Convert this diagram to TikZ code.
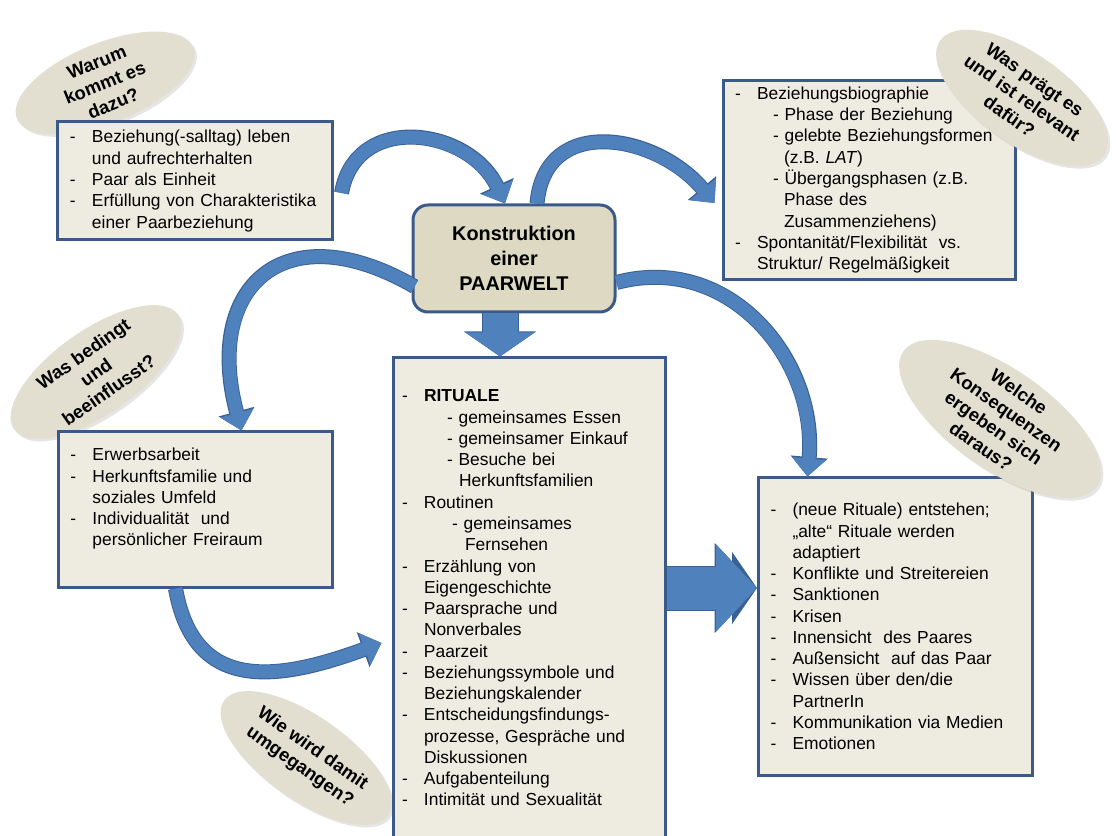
\documentclass[tikz,border=0pt]{standalone}
\usepackage{fontspec}
\setmainfont{Liberation Sans}
\usepackage{tikz}
\usetikzlibrary{arrows.meta,shapes,positioning,shadows}
\usetikzlibrary{calc}

\definecolor{boxblue}{HTML}{3B5A8A}
\definecolor{boxfill}{HTML}{EEECE1}
\definecolor{corefill}{HTML}{DDD9C3}
\definecolor{bubblefill}{HTML}{E2DFD0}
\definecolor{arrowblue}{HTML}{4F81BD}
\definecolor{arrowdark}{HTML}{3A6196}

\newcommand{\dashitem}{\makebox[4.4mm][l]{-}}
\newcommand{\dashcont}{\hspace*{4.4mm}}
\newcommand{\subdash}[1][7.6mm]{\hspace*{#1}-\ }
\newcommand{\subcont}[1][9.8mm]{\hspace*{#1}}

\begin{document}
\begin{tikzpicture}[x=0.2mm, y=0.2mm]
        \tikzstyle{block} = [rectangle, draw=boxblue, line width=0.6mm,
                             fill=boxfill, align=left, text width=50mm,
                             inner xsep=2.4mm,
                             font=\fontsize{9.9}{12.1}\selectfont]
        \tikzstyle{core} = [rectangle, rounded corners=3mm, draw=boxblue,
                            line width=0.6mm, fill=corefill, align=center,
                            minimum width=40.4mm, minimum height=21.4mm,
                            font=\bfseries\fontsize{11.3}{14.2}\selectfont]
        \tikzstyle{bubble} = [ellipse, fill=bubblefill, inner sep=-1.5mm,
                              align=center,
                              drop shadow={opacity=0.2, shadow xshift=0.5mm,
                                           shadow yshift=-0.5mm},
                              font=\bfseries\fontsize{10.5}{12.6}\selectfont]
        \tikzstyle{bigarrow} = [draw=arrowblue, line width=2.6mm,
                                -{Triangle[width=6.6mm,length=3.6mm]},
                                preaction={draw=arrowdark, line width=3mm,
                                  -{Triangle[width=7.2mm,length=3.9mm]}}]
        \tikzstyle{blockarrow} = [draw=arrowblue, line width=7mm,
                                  -{Triangle[width=13.6mm,length=4.8mm]},
                                  preaction={draw=arrowdark, line width=7.4mm,
                                    -{Triangle[width=14.2mm,length=5mm]}}]
        \useasboundingbox (0,0) rectangle (1116,835);
        \fill[white] (0,0) rectangle (1116,835);
        % questions on the left
        \node[bubble, minimum width=38mm, minimum height=16mm, rotate=22]
          (warum) at (105,752) {Warum\\kommt es\\dazu?};
        \node[bubble, minimum width=40mm, minimum height=16.8mm, rotate=35]
          (bedingt) at (96,463) {Was bedingt\\und\\beeinflusst?};
        \node[bubble, minimum width=40mm, minimum height=16.8mm, rotate=-35]
          (umgang) at (306,77) {Wie wird damit\\umgegangen?};
        % boxes
        \node[block, minimum height=23.6mm] (why) at (195,654)
          {\dashitem Beziehung(-salltag) leben\\
           \dashcont und aufrechterhalten\\
           \dashitem Paar als Einheit\\
           \dashitem Erfüllung von Charakteristika\\
           \dashcont einer Paarbeziehung};
        \node[block, text width=53.6mm, minimum height=39.2mm] (praegung)
          at (869,655)
          {\dashitem Beziehungsbiographie\\
           \subdash Phase der Beziehung\\
           \subdash gelebte Beziehungsformen\\
           \subcont (z.B. \textit{LAT})\\
           \subdash Übergangsphasen (z.B.\\
           \subcont Phase des\\
           \subcont Zusammenziehens)\\
           \dashitem Spontanität/Flexibilität\ \ vs.\\
           \dashcont Struktur/ Regelmäßigkeit};
        \node[core] (paarwelt) at (514,576.5) {Konstruktion\\einer\\PAARWELT};
        \node[block, text width=50.8mm, inner xsep=1.8mm, minimum height=96mm]
          (rituale) at (529,237)
          {\dashitem \textbf{RITUALE}\\
           \subdash[9mm]gemeinsames Essen\\
           \subdash[9mm]gemeinsamer Einkauf\\
           \subdash[9mm]Besuche bei\\
           \subcont[11.4mm]Herkunftsfamilien\\
           \dashitem Routinen\\
           \subdash[10mm]gemeinsames\\
           \subcont[12.6mm]Fernsehen\\
           \dashitem Erzählung von\\
           \dashcont Eigengeschichte\\
           \dashitem Paarsprache und\\
           \dashcont Nonverbales\\
           \dashitem Paarzeit\\
           \dashitem Beziehungssymbole und\\
           \dashcont Beziehungskalender\\
           \dashitem Entscheidungsfindungs-\\
           \dashcont prozesse, Gespräche und\\
           \dashcont Diskussionen\\
           \dashitem Aufgabenteilung\\
           \dashitem Intimität und Sexualität};
        \node[block, minimum height=31mm] (einfluss) at (195.5,325.5)
          {\dashitem Erwerbsarbeit\\
           \dashitem Herkunftsfamilie und\\
           \dashcont soziales Umfeld\\
           \dashitem Individualität\ \ und\\
           \dashcont persönlicher Freiraum\rule[-5mm]{0pt}{5mm}};
        \node[block, minimum height=59.4mm] (folgen) at (895.5,208.5)
          {\dashitem (neue Rituale) entstehen;\\
           \dashcont „alte“ Rituale werden\\
           \dashcont adaptiert\\
           \dashitem Konflikte und Streitereien\\
           \dashitem Sanktionen\\
           \dashitem Krisen\\
           \dashitem Innensicht\ \ des Paares\\
           \dashitem Außensicht\ \ auf das Paar\\
           \dashitem Wissen über den/die\\
           \dashcont PartnerIn\\
           \dashitem Kommunikation via Medien\\
           \dashitem Emotionen};
        % questions on the right
        \node[bubble, minimum width=40mm, minimum height=18mm, rotate=-35]
          (relevant) at (1022,737) {Was prägt es\\und ist relevant\\dafür?};
        \node[bubble, minimum width=47.2mm, minimum height=20mm, rotate=-35]
          (konsequenz) at (1000,416)
          {Welche\\Konsequenzen\\ergeben sich\\daraus?};
        % arrows
        \path[bigarrow] ($(why.east)+(8,-12)$) to[out=80, in=115, looseness=1.3]
                        ($(paarwelt.north)+(-9,0)$);
        \path[bigarrow] ($(paarwelt.north)+(23,0)$) to[out=85, in=130, looseness=1.3]
                        ($(praegung.west)+(-7,-23)$);
        \path[bigarrow] ($(paarwelt.west)+(3,-28)$) to[out=150, in=105, looseness=1.7]
                        ($(einfluss.north)+(46,0)$);
        \path[bigarrow] ($(paarwelt.east)+(0,-24)$) to[out=15, in=85, looseness=1.1]
                        ($(folgen.north)+(-88,0)$);
        \path[bigarrow] ($(einfluss.south)+(-20,0)$) to[out=-80, in=200, looseness=1.3]
                        ($(rituale.west)+(-10,-45)$);
        \coordinate (fstart) at ($(paarwelt.south)+(-14,0)$);
        \path[blockarrow] (fstart) -- (fstart |- rituale.north);
        \coordinate (gstart) at ($(rituale.east)+(0,10)$);
        \path[blockarrow, line width=8.6mm,
              -{Triangle[width=17mm,length=8.2mm]},
              preaction={draw=arrowdark, line width=9mm,
                -{Triangle[width=17.6mm,length=8.5mm]}}]
              (gstart) -- (gstart -| folgen.west);
      \end{tikzpicture}
\end{document}
